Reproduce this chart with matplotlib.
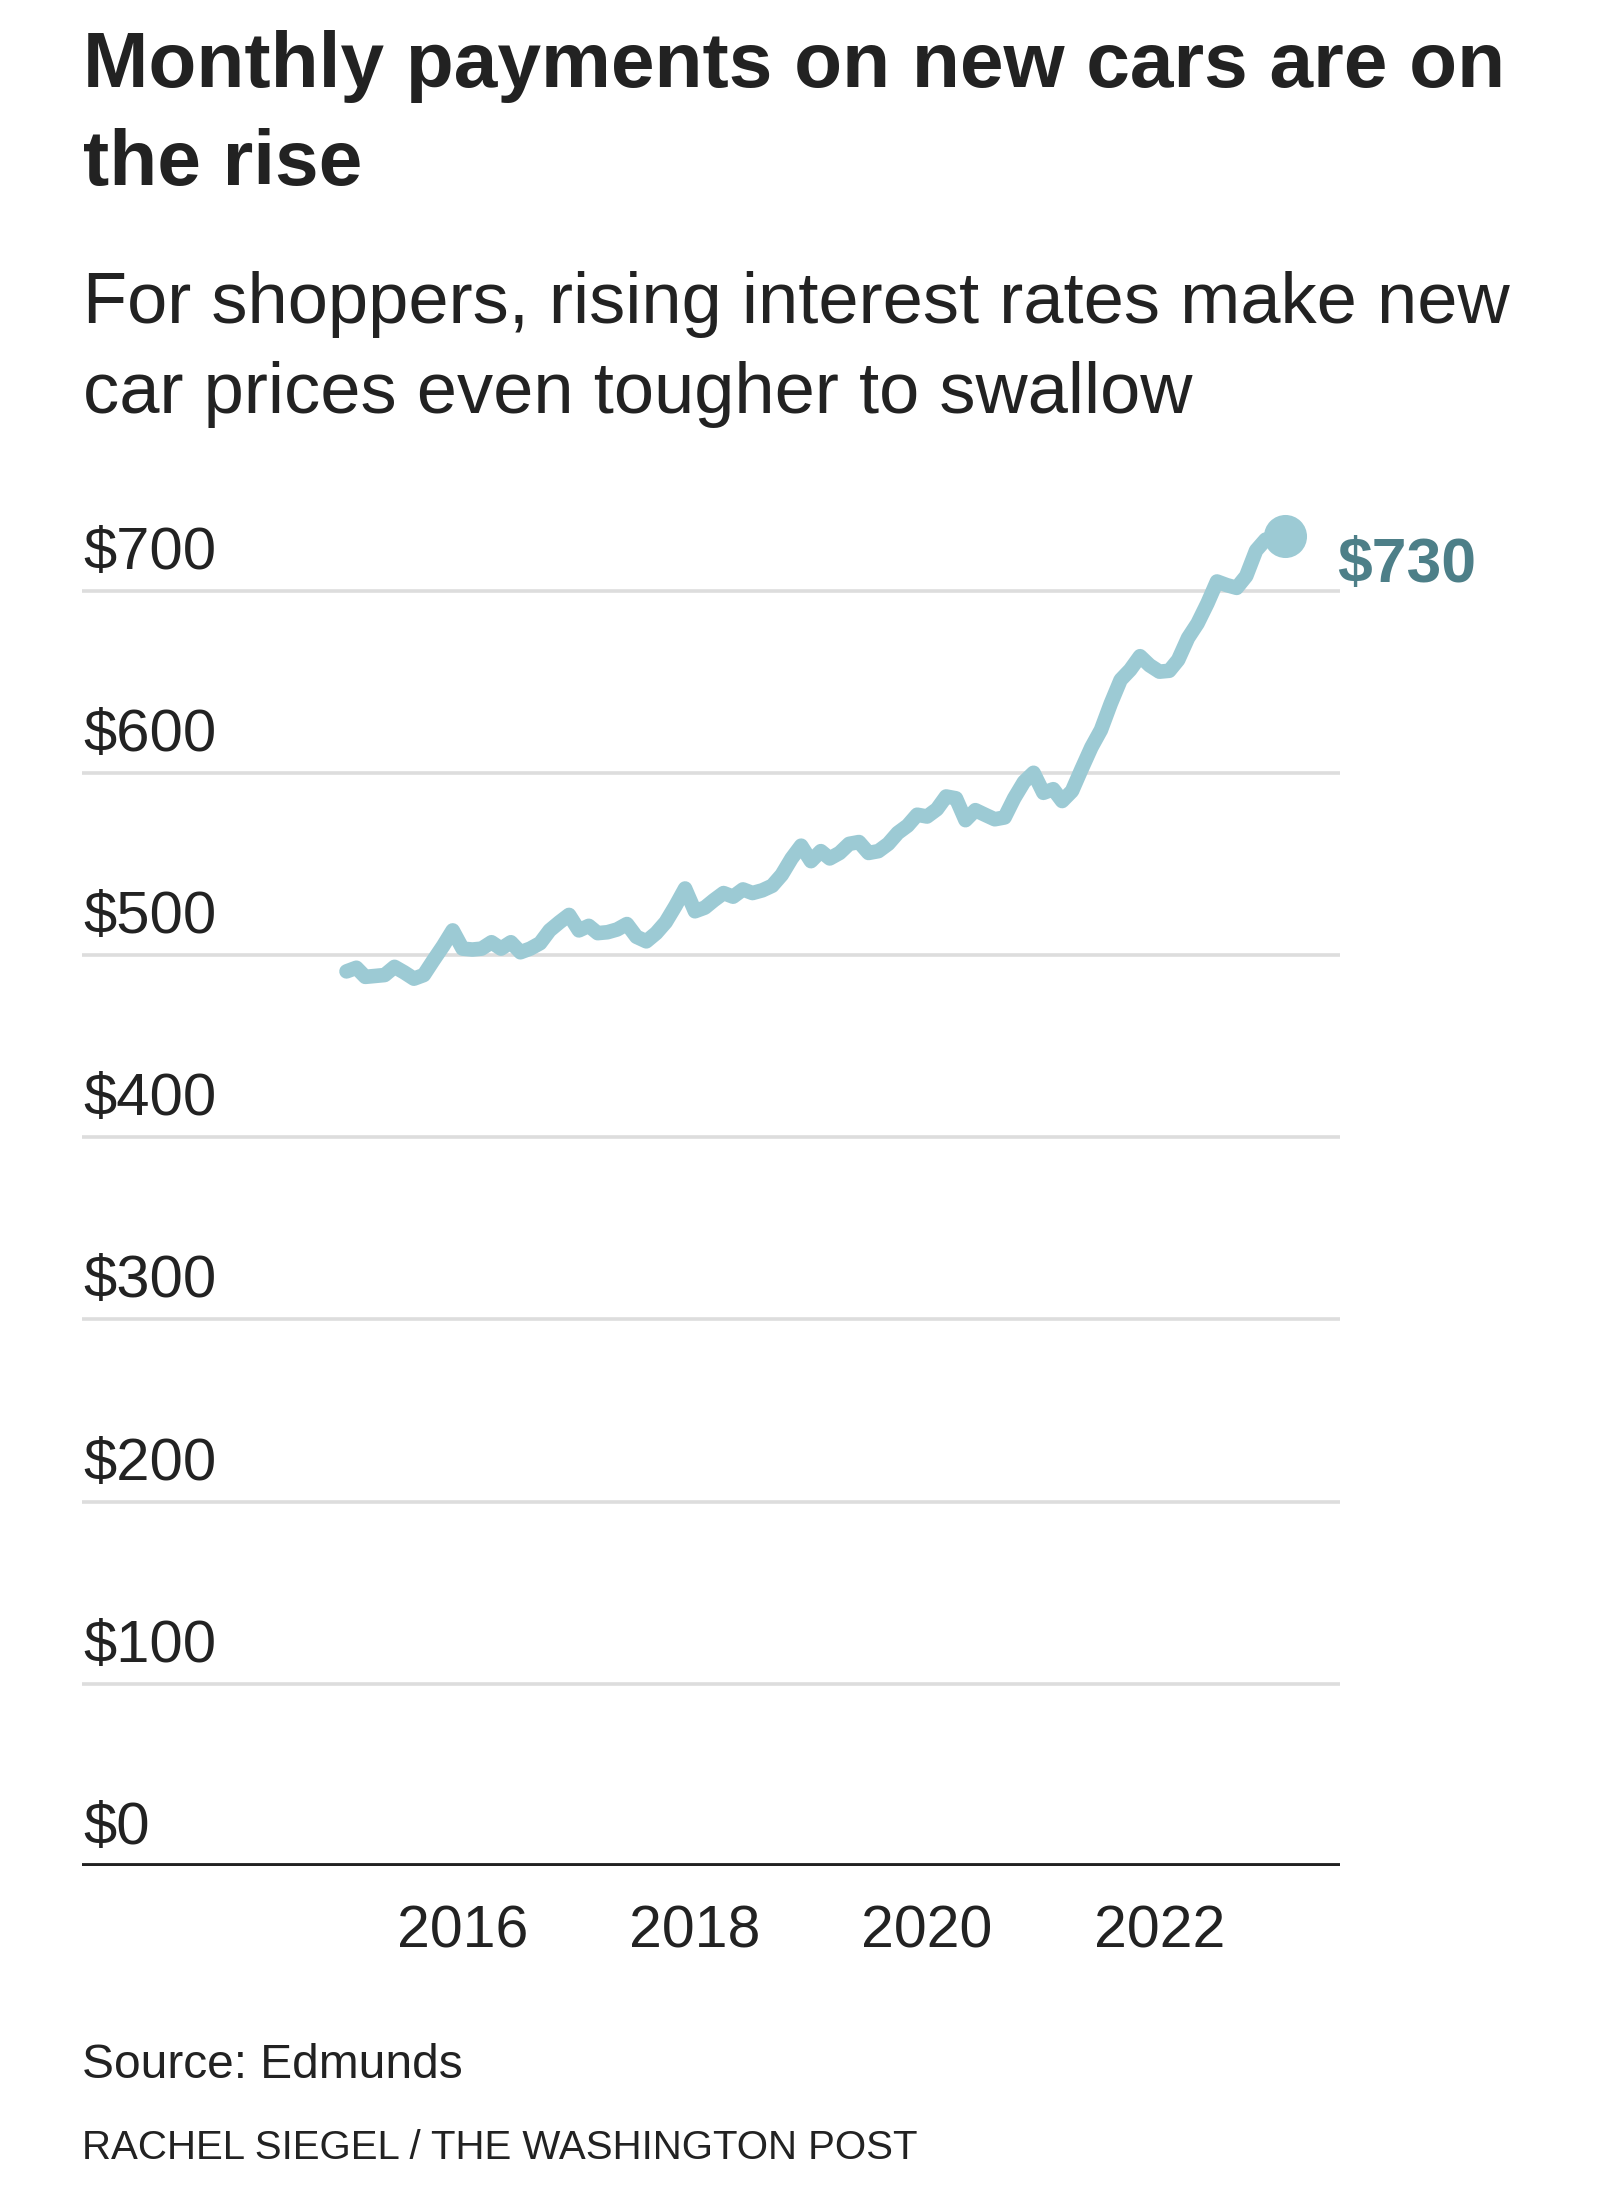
import matplotlib
matplotlib.use("Agg")
import matplotlib.pyplot as plt
import pandas as pd

plt.rcParams["font.family"] = ["Liberation Sans", "DejaVu Sans"]

# 月度平均车贷月供（美元），2015-01 起
START = "2015-01-01"
payments = [
    491, 493, 488, 488.5, 489, 493.5, 490.5, 487, 489, 497, 505, 513.5,
    503.5, 503, 503.5, 507, 503.5, 507, 501.5, 503.5, 506.5, 513.5, 518, 522,
    513.5, 516, 512, 512.5, 514, 517, 510, 507.5, 512, 518, 527, 536.5,
    524, 526, 530, 534, 532, 536, 534, 535.5, 538, 544, 553, 560,
    551.5, 557, 553, 556, 561, 562, 556, 557, 561, 567, 571, 577,
    576, 580, 587, 586, 574, 579.5, 577, 574.5, 575.5, 586, 595, 600,
    589, 591, 584.5, 590, 602, 614, 623.5, 638, 651, 656.5, 664, 659,
    655.5, 656, 662, 674, 682, 693, 705, 703, 701.5, 708, 722, 728,
    729, 730,
]
y_ticks = [0, 100, 200, 300, 400, 500, 600, 700]
y_labels = ["$0", "$100", "$200", "$300", "$400", "$500", "$600", "$700"]
x_ticks = ["2016-01-01", "2018-01-01", "2020-01-01", "2022-01-01"]
x_labels = ["2016", "2018", "2020", "2022"]
end_label = "$730"

TITLE = ["Monthly payments on new cars are on", "the rise"]
SUBTITLE = ["For shoppers, rising interest rates make new",
            "car prices even tougher to swallow"]
SOURCE = "Source: Edmunds"
CREDIT = "RACHEL SIEGEL / THE WASHINGTON POST"

LINE_C = "#9ccad4"
LABEL_C = "#4d7f88"
TEXT_C = "#222222"
GRID_C = "#dddddd"

W, H = 1600, 2190


def fy(y_px):
    return 1 - y_px / H


dates = pd.date_range(START, periods=len(payments), freq="MS")

fig = plt.figure(figsize=(W / 100, H / 100), dpi=100)
ax = fig.add_axes([82 / W, fy(1866), (1340 - 82) / W, (1866 - 499.5) / H])

ax.plot(dates, payments, color=LINE_C, lw=10.5, solid_joinstyle="round",
        solid_capstyle="round", zorder=3)
ax.plot(dates[-1:], payments[-1:], "o", color=LINE_C, ms=31, mec="none",
        zorder=4, clip_on=False)
ax.annotate(end_label, xy=(dates[-1], payments[-1]), xytext=(52, -46),
            textcoords="offset pixels", ha="left", va="baseline",
            fontsize=45, fontweight="bold", color=LABEL_C)

ax.set_xlim(pd.Timestamp("2012-09-21"), pd.Timestamp("2023-07-23"))
ax.set_ylim(0, 750)
ax.set_yticks(y_ticks)
ax.set_yticklabels([])
ax.tick_params(axis="y", length=0)
ax.grid(axis="y", color=GRID_C, lw=2.6, zorder=1)
ax.axhline(0, color=TEXT_C, lw=4.2, zorder=2)
for s in ax.spines.values():
    s.set_visible(False)
for v, lab in zip(y_ticks, y_labels):
    ax.annotate(lab, xy=(0, v), xycoords=("axes fraction", "data"),
                xytext=(1, 22), textcoords="offset pixels",
                ha="left", va="baseline", fontsize=43, color=TEXT_C)

ax.set_xticks(pd.to_datetime(x_ticks))
ax.set_xticklabels(x_labels, fontsize=42.5, color=TEXT_C)
ax.tick_params(axis="x", length=0, pad=28)

fig.text(83 / W, fy(86.7), TITLE[0], fontsize=56.5, fontweight="bold",
         color=TEXT_C, va="baseline")
fig.text(83 / W, fy(185), TITLE[1], fontsize=56.5, fontweight="bold",
         color=TEXT_C, va="baseline")
fig.text(83 / W, fy(323.3), SUBTITLE[0], fontsize=52, color=TEXT_C,
         va="baseline")
fig.text(83 / W, fy(413), SUBTITLE[1], fontsize=52, color=TEXT_C,
         va="baseline")
fig.text(82 / W, fy(2078), SOURCE, fontsize=34.5, color=TEXT_C, va="baseline")
fig.text(82 / W, fy(2159), CREDIT, fontsize=29, color=TEXT_C, va="baseline")

fig.savefig("out.png", dpi=100, facecolor="white")
